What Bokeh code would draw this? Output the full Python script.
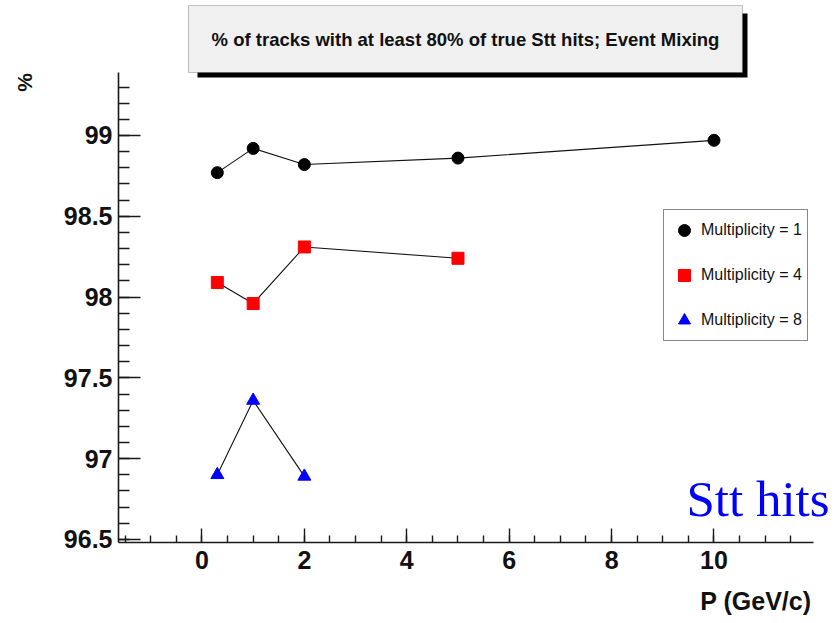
import numpy as np
from bokeh.plotting import figure
from bokeh.models import (Range1d, FixedTicker, CustomJSTickFormatter, Label,
                          BoxAnnotation, Legend, LegendItem)
from bokeh.embed import file_html
from bokeh.resources import INLINE

# Momentum points (GeV/c) and track-finding efficiency (%) per multiplicity
p_mult1 = [0.3, 1, 2, 5, 10]
eff_mult1 = [98.77, 98.92, 98.82, 98.86, 98.97]

p_mult4 = [0.3, 1, 2, 5]
eff_mult4 = [98.09, 97.96, 98.31, 98.24]

p_mult8 = [0.3, 1, 2]
eff_mult8 = [96.90, 97.36, 96.89]

x_ticks = [0, 2, 4, 6, 8, 10]
y_ticks = [96.5, 97, 97.5, 98, 98.5, 99]

title_text = "% of tracks with at least 80% of true Stt hits; Event Mixing"

W, H = 835, 623
FL, FB = 118, 542                 # left / bottom edge of the plotting frame (px)
X_PX = 51.2                       # pixels per GeV/c
Y_PX = 161.6                      # pixels per percent
X0_PX, Y99_PX = 201.5, 135.0      # pixel positions of x = 0 and y = 99

# axis extents (the drawn axis lines stop here)
X_AXIS = (-1.63, 11.94)
Y_AXIS = (96.481, 99.39)
# frame spans the whole canvas above/right of the axes
XR = (X_AXIS[0], (W - X0_PX) / X_PX)
YR = (Y_AXIS[0], 99 + Y99_PX / Y_PX)

FONT = "Liberation Sans"

p = figure(width=W, height=H, output_backend="svg", toolbar_location=None,
           x_range=Range1d(*XR), y_range=Range1d(*YR),
           min_border_left=FL, min_border_right=0,
           min_border_top=0, min_border_bottom=H - FB)
p.outline_line_color = None
p.grid.visible = False
p.background_fill_color = "white"
p.border_fill_color = "white"

fmt = CustomJSTickFormatter(code="return String(Math.round(tick*10)/10);")

xa = p.xaxis[0]
xa.bounds = X_AXIS
xa.ticker = FixedTicker(ticks=x_ticks,
                        minor_ticks=list(np.round(np.arange(-1.5, 11.51, 0.5), 2)))
xa.formatter = fmt
xa.major_tick_in, xa.major_tick_out = 14, 0
xa.minor_tick_in, xa.minor_tick_out = 7, 0
xa.major_label_standoff = 8

ya = p.yaxis[0]
ya.bounds = Y_AXIS
ya.ticker = FixedTicker(ticks=y_ticks,
                        minor_ticks=list(np.round(np.arange(96.5, 99.31, 0.1), 2)))
ya.formatter = fmt
ya.major_tick_in, ya.major_tick_out = 22, 0
ya.minor_tick_in, ya.minor_tick_out = 11, 0
ya.major_label_standoff = 6

for ax in (xa, ya):
    ax.axis_line_width = 1.6
    ax.axis_line_color = "#1a1a1a"
    ax.major_tick_line_width = 1.4
    ax.minor_tick_line_width = 1.4
    ax.major_tick_line_color = "#1a1a1a"
    ax.minor_tick_line_color = "#1a1a1a"
    ax.major_label_text_font = FONT
    ax.major_label_text_font_style = "bold"
    ax.major_label_text_font_size = "25px"
    ax.major_label_text_color = "#111111"

# connecting polylines
p.line(p_mult1, eff_mult1, line_color="#111111", line_width=1.1)
p.line(p_mult4, eff_mult4, line_color="#111111", line_width=1.1)
p.line(p_mult8, eff_mult8, line_color="#111111", line_width=1.1)

# markers
r1 = p.scatter(p_mult1, eff_mult1, marker="circle", size=12,
               fill_color="black", line_color="black")
r4 = p.scatter(p_mult4, eff_mult4, marker="square", size=12,
               fill_color="red", line_color="red")
r8 = p.scatter(p_mult8, eff_mult8, marker="triangle", size=13,
               fill_color="blue", line_color="blue")

legend = Legend(items=[LegendItem(label="Multiplicity = 1", renderers=[r1]),
                       LegendItem(label="Multiplicity = 4", renderers=[r4]),
                       LegendItem(label="Multiplicity = 8", renderers=[r8])],
                location=(663 - FL, FB - 341), margin=0, padding=5,
                spacing=15, glyph_width=30, glyph_height=30, label_height=30,
                label_standoff=2, label_text_font=FONT,
                label_text_font_size="16px", label_text_color="#111111",
                border_line_color="#111111", border_line_width=1.5,
                background_fill_color="white", background_fill_alpha=1)
p.add_layout(legend)

CANVAS = dict(left_units="canvas", right_units="canvas",
              top_units="canvas", bottom_units="canvas")

# title box with drop shadow
p.add_layout(BoxAnnotation(left=197, right=747, top=13, bottom=77,
                           fill_color="black", fill_alpha=1, line_color=None,
                           **CANVAS))
p.add_layout(BoxAnnotation(left=188, right=742, top=5, bottom=72,
                           fill_color="#f0f0f0", fill_alpha=1, line_color="#444444",
                           line_width=1.2, **CANVAS))
p.add_layout(Label(x=465, y=39, x_units="canvas", y_units="canvas",
                   text=title_text, text_align="center",
                   text_baseline="middle", text_font=FONT, text_font_style="bold",
                   text_font_size="18.5px", text_color="#111111"))

# axis titles, kept in the side panels
p.add_layout(Label(x=811, y=600, x_units="canvas", y_units="canvas",
                   text="P (GeV/c)", text_align="right",
                   text_baseline="middle", text_font=FONT, text_font_style="bold",
                   text_font_size="25px", text_color="#111111"), "below")
p.add_layout(Label(x=24, y=82, x_units="canvas", y_units="canvas",
                   text="%", angle=np.pi / 2,
                   text_align="center", text_baseline="middle", text_font=FONT,
                   text_font_style="bold", text_font_size="21px",
                   text_color="#111111"), "left")

# annotation
p.add_layout(Label(x=686, y=498, x_units="canvas", y_units="canvas",
                   text="Stt hits", text_align="left",
                   text_baseline="alphabetic", text_font="Liberation Serif",
                   text_font_size="51px", text_color="#0000ff"))

open("out.html", "w").write(file_html(p, INLINE))
